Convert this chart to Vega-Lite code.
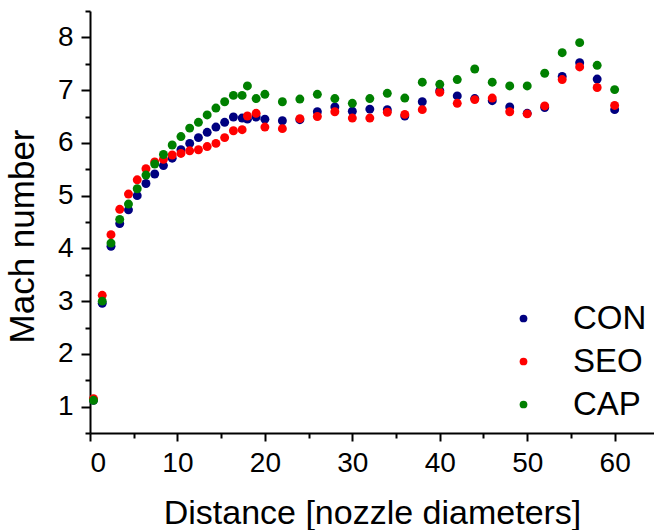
{
  "$schema": "https://vega.github.io/schema/vega-lite/v6.json",
  "width": 564,
  "height": 422,
  "autosize": {"type": "none"},
  "padding": {"left": 90, "top": 11, "right": 0, "bottom": 97},
  "background": "white",
  "config": {
    "view": {"stroke": null},
    "font": "Liberation Sans",
    "axis": {
      "grid": false,
      "domainColor": "black",
      "domainWidth": 2,
      "tickColor": "black",
      "tickWidth": 2,
      "labelColor": "black",
      "titleColor": "black",
      "labelFont": "Liberation Sans",
      "titleFont": "Liberation Sans",
      "titleFontWeight": "normal"
    }
  },
  "data": {
    "values": [
      {"series": "CON", "distance": 0.4, "mach": 1.12},
      {"series": "CON", "distance": 1.4, "mach": 2.96},
      {"series": "CON", "distance": 2.4, "mach": 4.04},
      {"series": "CON", "distance": 3.4, "mach": 4.47},
      {"series": "CON", "distance": 4.4, "mach": 4.73},
      {"series": "CON", "distance": 5.4, "mach": 5.0},
      {"series": "CON", "distance": 6.4, "mach": 5.23},
      {"series": "CON", "distance": 7.4, "mach": 5.41},
      {"series": "CON", "distance": 8.4, "mach": 5.57},
      {"series": "CON", "distance": 9.4, "mach": 5.71},
      {"series": "CON", "distance": 10.4, "mach": 5.87},
      {"series": "CON", "distance": 11.4, "mach": 5.99},
      {"series": "CON", "distance": 12.4, "mach": 6.1},
      {"series": "CON", "distance": 13.4, "mach": 6.2},
      {"series": "CON", "distance": 14.4, "mach": 6.3},
      {"series": "CON", "distance": 15.4, "mach": 6.39},
      {"series": "CON", "distance": 16.4, "mach": 6.49},
      {"series": "CON", "distance": 17.4, "mach": 6.47},
      {"series": "CON", "distance": 18, "mach": 6.45},
      {"series": "CON", "distance": 19, "mach": 6.49},
      {"series": "CON", "distance": 20, "mach": 6.45},
      {"series": "CON", "distance": 22, "mach": 6.42},
      {"series": "CON", "distance": 24, "mach": 6.44},
      {"series": "CON", "distance": 26, "mach": 6.59},
      {"series": "CON", "distance": 28, "mach": 6.68},
      {"series": "CON", "distance": 30, "mach": 6.6},
      {"series": "CON", "distance": 32, "mach": 6.64},
      {"series": "CON", "distance": 34, "mach": 6.63},
      {"series": "CON", "distance": 36, "mach": 6.51},
      {"series": "CON", "distance": 38, "mach": 6.78},
      {"series": "CON", "distance": 40, "mach": 6.99},
      {"series": "CON", "distance": 42, "mach": 6.89},
      {"series": "CON", "distance": 44, "mach": 6.84},
      {"series": "CON", "distance": 46, "mach": 6.8},
      {"series": "CON", "distance": 48, "mach": 6.68},
      {"series": "CON", "distance": 50, "mach": 6.56},
      {"series": "CON", "distance": 52, "mach": 6.67},
      {"series": "CON", "distance": 54, "mach": 7.26},
      {"series": "CON", "distance": 56, "mach": 7.52},
      {"series": "CON", "distance": 58, "mach": 7.21},
      {"series": "CON", "distance": 60, "mach": 6.63},
      {"series": "SEO", "distance": 0.4, "mach": 1.15},
      {"series": "SEO", "distance": 1.4, "mach": 3.11},
      {"series": "SEO", "distance": 2.4, "mach": 4.26},
      {"series": "SEO", "distance": 3.4, "mach": 4.74},
      {"series": "SEO", "distance": 4.4, "mach": 5.03},
      {"series": "SEO", "distance": 5.4, "mach": 5.3},
      {"series": "SEO", "distance": 6.4, "mach": 5.51},
      {"series": "SEO", "distance": 7.4, "mach": 5.64},
      {"series": "SEO", "distance": 8.4, "mach": 5.69},
      {"series": "SEO", "distance": 9.4, "mach": 5.77},
      {"series": "SEO", "distance": 10.4, "mach": 5.8},
      {"series": "SEO", "distance": 11.4, "mach": 5.85},
      {"series": "SEO", "distance": 12.4, "mach": 5.87},
      {"series": "SEO", "distance": 13.4, "mach": 5.93},
      {"series": "SEO", "distance": 14.4, "mach": 5.99},
      {"series": "SEO", "distance": 15.4, "mach": 6.1},
      {"series": "SEO", "distance": 16.4, "mach": 6.23},
      {"series": "SEO", "distance": 17.4, "mach": 6.25},
      {"series": "SEO", "distance": 18, "mach": 6.51},
      {"series": "SEO", "distance": 19, "mach": 6.56},
      {"series": "SEO", "distance": 20, "mach": 6.3},
      {"series": "SEO", "distance": 22, "mach": 6.27},
      {"series": "SEO", "distance": 24, "mach": 6.46},
      {"series": "SEO", "distance": 26, "mach": 6.5},
      {"series": "SEO", "distance": 28, "mach": 6.59},
      {"series": "SEO", "distance": 30, "mach": 6.47},
      {"series": "SEO", "distance": 32, "mach": 6.47},
      {"series": "SEO", "distance": 34, "mach": 6.58},
      {"series": "SEO", "distance": 36, "mach": 6.54},
      {"series": "SEO", "distance": 38, "mach": 6.63},
      {"series": "SEO", "distance": 40, "mach": 6.96},
      {"series": "SEO", "distance": 42, "mach": 6.75},
      {"series": "SEO", "distance": 44, "mach": 6.82},
      {"series": "SEO", "distance": 46, "mach": 6.85},
      {"series": "SEO", "distance": 48, "mach": 6.59},
      {"series": "SEO", "distance": 50, "mach": 6.55},
      {"series": "SEO", "distance": 52, "mach": 6.7},
      {"series": "SEO", "distance": 54, "mach": 7.2},
      {"series": "SEO", "distance": 56, "mach": 7.44},
      {"series": "SEO", "distance": 58, "mach": 7.05},
      {"series": "SEO", "distance": 60, "mach": 6.71},
      {"series": "CAP", "distance": 0.4, "mach": 1.12},
      {"series": "CAP", "distance": 1.4, "mach": 3.0},
      {"series": "CAP", "distance": 2.4, "mach": 4.1},
      {"series": "CAP", "distance": 3.4, "mach": 4.55},
      {"series": "CAP", "distance": 4.4, "mach": 4.84},
      {"series": "CAP", "distance": 5.4, "mach": 5.13},
      {"series": "CAP", "distance": 6.4, "mach": 5.39},
      {"series": "CAP", "distance": 7.4, "mach": 5.6},
      {"series": "CAP", "distance": 8.4, "mach": 5.78},
      {"series": "CAP", "distance": 9.4, "mach": 5.96},
      {"series": "CAP", "distance": 10.4, "mach": 6.12},
      {"series": "CAP", "distance": 11.4, "mach": 6.28},
      {"series": "CAP", "distance": 12.4, "mach": 6.39},
      {"series": "CAP", "distance": 13.4, "mach": 6.53},
      {"series": "CAP", "distance": 14.4, "mach": 6.66},
      {"series": "CAP", "distance": 15.4, "mach": 6.78},
      {"series": "CAP", "distance": 16.4, "mach": 6.9},
      {"series": "CAP", "distance": 17.4, "mach": 6.9},
      {"series": "CAP", "distance": 18, "mach": 7.08},
      {"series": "CAP", "distance": 19, "mach": 6.84},
      {"series": "CAP", "distance": 20, "mach": 6.92},
      {"series": "CAP", "distance": 22, "mach": 6.78},
      {"series": "CAP", "distance": 24, "mach": 6.83},
      {"series": "CAP", "distance": 26, "mach": 6.92},
      {"series": "CAP", "distance": 28, "mach": 6.84},
      {"series": "CAP", "distance": 30, "mach": 6.75},
      {"series": "CAP", "distance": 32, "mach": 6.84},
      {"series": "CAP", "distance": 34, "mach": 6.94},
      {"series": "CAP", "distance": 36, "mach": 6.85},
      {"series": "CAP", "distance": 38, "mach": 7.15},
      {"series": "CAP", "distance": 40, "mach": 7.11},
      {"series": "CAP", "distance": 42, "mach": 7.2},
      {"series": "CAP", "distance": 44, "mach": 7.4},
      {"series": "CAP", "distance": 46, "mach": 7.15},
      {"series": "CAP", "distance": 48, "mach": 7.08},
      {"series": "CAP", "distance": 50, "mach": 7.08},
      {"series": "CAP", "distance": 52, "mach": 7.32},
      {"series": "CAP", "distance": 54, "mach": 7.71},
      {"series": "CAP", "distance": 56, "mach": 7.9},
      {"series": "CAP", "distance": 58, "mach": 7.47},
      {"series": "CAP", "distance": 60, "mach": 7.01}
    ]
  },
  "layer": [
    {
      "mark": {"type": "point", "opacity": 0},
      "encoding": {
        "x": {
          "field": "distance", "type": "quantitative",
          "scale": {"domain": [0, 64.5], "nice": false, "zero": false},
          "axis": {"orient": "bottom", "values": [5, 15, 25, 35, 45, 55], "labels": false, "domain": false, "tickSize": 5, "title": null}
        },
        "y": {
          "field": "mach", "type": "quantitative",
          "scale": {"domain": [0.5, 8.5], "nice": false, "zero": false},
          "axis": {"orient": "left", "values": [0.5, 1.5, 2.5, 3.5, 4.5, 5.5, 6.5, 7.5, 8.5], "labels": false, "domain": false, "tickSize": 5, "title": null}
        }
      }
    },
    {
      "mark": {"type": "point", "filled": true, "opacity": 1, "size": 80},
      "encoding": {
        "x": {
          "field": "distance", "type": "quantitative",
          "scale": {"domain": [0, 64.5], "nice": false, "zero": false},
          "axis": {
            "orient": "bottom",
            "values": [0, 10, 20, 30, 40, 50, 60],
            "tickSize": 8,
            "labelFontSize": 28,
            "labelPadding": 8,
            "title": "Distance [nozzle diameters]",
            "titleFontSize": 34,
            "titleBaseline": "alphabetic",
            "titleY": 90
          }
        },
        "y": {
          "field": "mach", "type": "quantitative",
          "scale": {"domain": [0.5, 8.5], "nice": false, "zero": false},
          "axis": {
            "orient": "left",
            "values": [1, 2, 3, 4, 5, 6, 7, 8],
            "tickSize": 9,
            "labelFontSize": 28,
            "labelPadding": 8,
            "title": "Mach number",
            "titleFontSize": 35,
            "titleBaseline": "alphabetic",
            "titleX": -57,
            "titleY": 225
          }
        },
        "color": {
          "field": "series", "type": "nominal",
          "scale": {"domain": ["CON", "SEO", "CAP"], "range": ["#000080", "#ff0000", "#008000"]},
          "legend": {
            "title": null,
            "orient": "none",
            "legendX": 417,
            "legendY": 291,
            "padding": 0,
            "symbolType": "circle",
            "symbolSize": 60,
            "symbolOpacity": 1,
            "symbolStrokeWidth": 0,
            "labelFontSize": 33,
            "labelFont": "Liberation Sans",
            "labelColor": "black",
            "labelOffset": 33,
            "rowPadding": 9
          }
        }
      }
    }
  ],
  "resolve": {"axis": {"x": "independent", "y": "independent"}}
}
